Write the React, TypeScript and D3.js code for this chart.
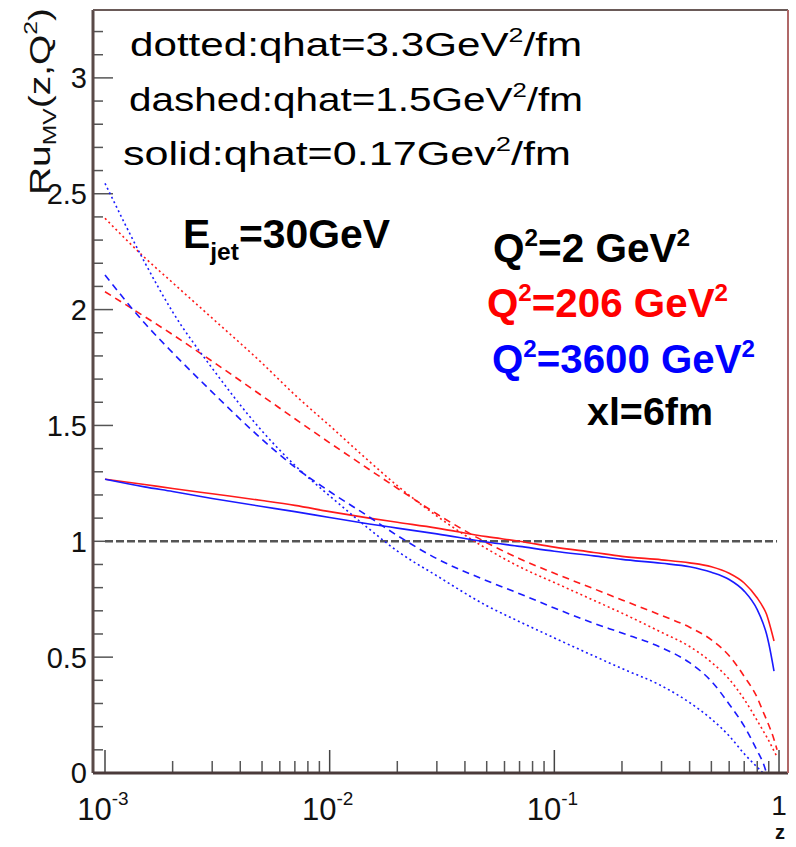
import React from 'react';
import * as d3 from 'd3';

// ---------- data ----------
const zGrid = [0.001, 0.0015, 0.002, 0.003, 0.005, 0.007, 0.01, 0.015, 0.02, 0.03, 0.05, 0.07, 0.1, 0.15, 0.2, 0.3, 0.4, 0.5, 0.6, 0.7, 0.8, 0.85, 0.88, 0.9, 0.95, 0.98];

// Q^2 = 206 GeV^2 (red)
const redSolid = [1.268, 1.245, 1.228, 1.205, 1.176, 1.155, 1.128, 1.1, 1.082, 1.057, 1.02, 1.0, 0.975, 0.952, 0.935, 0.92, 0.907, 0.89, 0.862, 0.82, 0.755, 0.715, 0.685, 0.655, 0.57, null];
const redDashed = [2.077, 1.97, 1.892, 1.777, 1.628, 1.529, 1.425, 1.31, 1.229, 1.118, 0.994, 0.925, 0.862, 0.795, 0.747, 0.68, 0.629, 0.575, 0.506, 0.417, 0.325, 0.264, 0.23, 0.207, 0.145, 0.1];
const redDotted = [2.394, 2.225, 2.116, 1.963, 1.769, 1.632, 1.499, 1.345, 1.24, 1.109, 0.968, 0.89, 0.822, 0.745, 0.69, 0.607, 0.546, 0.478, 0.405, 0.318, 0.226, 0.182, 0.157, 0.14, 0.095, 0.07];

// Q^2 = 3600 GeV^2 (blue)
const blueSolid = [1.268, 1.235, 1.215, 1.185, 1.15, 1.128, 1.103, 1.075, 1.057, 1.032, 0.997, 0.978, 0.957, 0.937, 0.922, 0.905, 0.89, 0.866, 0.835, 0.785, 0.705, 0.645, 0.6, 0.56, 0.44, null];
const blueDashed = [2.149, 1.942, 1.814, 1.644, 1.44, 1.32, 1.215, 1.105, 1.025, 0.925, 0.83, 0.774, 0.712, 0.646, 0.604, 0.541, 0.476, 0.396, 0.297, 0.202, 0.096, 0.043, 0.0, null, null, null];
const blueDotted = [2.545, 2.205, 1.99, 1.747, 1.476, 1.328, 1.196, 1.053, 0.958, 0.851, 0.722, 0.653, 0.583, 0.505, 0.451, 0.376, 0.304, 0.233, 0.16, 0.083, 0.025, 0.0, null, null, null, null];

// Q^2 = 2 GeV^2 (reference, ratio 1)
const refZ = [0.001, 0.98];
const refValues = [1, 1];

const yTickValues = [0, 0.5, 1, 1.5, 2, 2.5, 3];
const yTickLabels = ['0', '0.5', '1', '1.5', '2', '2.5', '3'];
const xTickExponents = [-3, -2, -1, 0];

const RED = '#ff1a1a';
const BLUE = '#1a1aff';

const series = [
  { values: redSolid, color: RED, dash: undefined },
  { values: redDashed, color: RED, dash: '7 5' },
  { values: redDotted, color: RED, dash: '2 3' },
  { values: blueSolid, color: BLUE, dash: undefined },
  { values: blueDashed, color: BLUE, dash: '7 5' },
  { values: blueDotted, color: BLUE, dash: '2 3' },
];

const W = 796;
const H = 847;
const FL = 93, FR = 788, FT = 10, FB = 773;
const FONT = '"Liberation Sans", Arial, Helvetica, sans-serif';

export default function App() {
  const x = d3.scaleLog().domain([Math.pow(10, -3.0534), Math.pow(10, 0.04)]).range([FL, FR]);
  const y = d3.scaleLinear().domain([0, 3.293]).range([FB, FT]);

  const line = d3
    .line<[number, number | null]>()
    .defined((d) => d[1] !== null)
    .x((d) => x(d[0]))
    .y((d) => y(d[1] as number))
    .curve(d3.curveMonotoneX);

  const refLine = d3
    .line<[number, number]>()
    .x((d) => x(d[0]))
    .y((d) => y(d[1]));

  const yMinor = d3.range(0, 33).map((i) => i / 10);
  const xMajor = xTickExponents.map((e) => Math.pow(10, e));
  const xMinor: number[] = [];
  [-3, -2, -1].forEach((e) => {
    for (let k = 2; k <= 9; k++) xMinor.push(k * Math.pow(10, e));
  });

  return (
    <svg width={W} height={H} style={{ display: 'block', position: 'absolute', left: 0, top: 0, background: '#fff' }} fontFamily={FONT}>
      <defs>
        <clipPath id="plotClip">
          <rect x={FL} y={FT} width={FR - FL} height={FB - FT} />
        </clipPath>
      </defs>
      <rect x={0} y={0} width={W} height={H} fill="#fff" />

      {/* y ticks */}
      {yMinor.map((v, i) => {
        const major = Math.abs(v * 2 - Math.round(v * 2)) < 1e-6;
        return (
          <line key={'ym' + i} x1={FL} x2={FL + (major ? 20 : 10)} y1={y(v)} y2={y(v)} stroke="#555" strokeWidth={1.5} />
        );
      })}
      {/* x ticks */}
      {xMinor.map((v, i) => (
        <line key={'xm' + i} x1={x(v)} x2={x(v)} y1={FB} y2={FB - 12} stroke="#555" strokeWidth={1.5} />
      ))}
      {xMajor.map((v, i) => (
        <line key={'xM' + i} x1={x(v)} x2={x(v)} y1={FB} y2={FB - 23} stroke="#444" strokeWidth={1.5} />
      ))}

      {/* reference line Q^2 = 2 */}
      <path
        d={refLine(refZ.map((z, i) => [z, refValues[i]] as [number, number])) || ''}
        fill="none"
        stroke="#555"
        strokeWidth={2.5}
        strokeDasharray="8 3"
        clipPath="url(#plotClip)"
      />

      {/* curves */}
      <g clipPath="url(#plotClip)">
        {series.map((s, i) => (
          <path
            key={'s' + i}
            d={line(zGrid.map((z, j) => [z, s.values[j]] as [number, number | null])) || ''}
            fill="none"
            stroke={s.color}
            strokeWidth={1.6}
            strokeDasharray={s.dash}
          />
        ))}
      </g>

      {/* frame */}
      <line x1={FL} x2={FL} y1={FT} y2={FB} stroke="#5a4a48" strokeWidth={3} />
      <line x1={FL} x2={FR} y1={FB} y2={FB} stroke="#4a3a3a" strokeWidth={3} />
      <line x1={FL} x2={FR} y1={FT} y2={FT} stroke="#6a5a58" strokeWidth={2} />
      <line x1={FR} x2={FR} y1={FT} y2={FB} stroke="#b06868" strokeWidth={2} />

      {/* y tick labels */}
      {yTickValues.map((v, i) => (
        <text key={'yl' + i} x={87} y={y(v)} dy="0.36em" textAnchor="end" fontSize={29} fill="#111">
          {yTickLabels[i]}
        </text>
      ))}

      {/* x tick labels */}
      {xTickExponents.map((e, i) =>
        e === 0 ? (
          <text key={'xl' + i} x={x(1)} y={815} textAnchor="middle" fontSize={28} fill="#111">
            1
          </text>
        ) : (
          <text key={'xl' + i} x={x(Math.pow(10, e)) - 2} y={820} textAnchor="middle" fontSize={31} fill="#111">
            10
            <tspan fontSize={19} dy={-15}>
              {String(e)}
            </tspan>
          </text>
        )
      )}

      {/* axis titles */}
      <text x={780} y={839} textAnchor="middle" fontSize={20} fontWeight="bold" fill="#111">
        z
      </text>
      <text
        transform="translate(50,195) rotate(-90)"
        fontSize={30}
        fill="#111"
        textLength={187}
        lengthAdjust="spacingAndGlyphs"
      >
        Ru
        <tspan fontSize={19} dy={6}>MV</tspan>
        <tspan dy={-6}>(z,Q</tspan>
        <tspan fontSize={19} dy={-13}>2</tspan>
        <tspan dy={13}>)</tspan>
      </text>

      {/* annotations */}
      <text x={130} y={56} fontSize={33} fill="#000" textLength={452} lengthAdjust="spacingAndGlyphs">
        dotted:qhat=3.3GeV<tspan fontSize={21} dy={-14}>2</tspan>
        <tspan dy={14}>/fm</tspan>
      </text>
      <text x={129} y={111} fontSize={33} fill="#000" textLength={454} lengthAdjust="spacingAndGlyphs">
        dashed:qhat=1.5GeV<tspan fontSize={21} dy={-14}>2</tspan>
        <tspan dy={14}>/fm</tspan>
      </text>
      <text x={123} y={165} fontSize={33} fill="#000" textLength={448} lengthAdjust="spacingAndGlyphs">
        solid:qhat=0.17Gev<tspan fontSize={21} dy={-14}>2</tspan>
        <tspan dy={14}>/fm</tspan>
      </text>

      <text x={183} y={248} fontSize={40} fontWeight="bold" fill="#000" textLength={207} lengthAdjust="spacingAndGlyphs">
        E<tspan fontSize={24} dy={12}>jet</tspan>
        <tspan dy={-12}>=30GeV</tspan>
      </text>

      <text x={493} y={262} fontSize={40} fontWeight="bold" fill="#000" textLength={197} lengthAdjust="spacingAndGlyphs">
        Q<tspan fontSize={24} dy={-16}>2</tspan>
        <tspan dy={16}>=2 GeV</tspan>
        <tspan fontSize={24} dy={-16}>2</tspan>
      </text>
      <text x={487} y={317} fontSize={40} fontWeight="bold" fill="#ff0000" textLength={241} lengthAdjust="spacingAndGlyphs">
        Q<tspan fontSize={24} dy={-16}>2</tspan>
        <tspan dy={16}>=206 GeV</tspan>
        <tspan fontSize={24} dy={-16}>2</tspan>
      </text>
      <text x={492} y={373} fontSize={40} fontWeight="bold" fill="#0000ff" textLength={263} lengthAdjust="spacingAndGlyphs">
        Q<tspan fontSize={24} dy={-16}>2</tspan>
        <tspan dy={16}>=3600 GeV</tspan>
        <tspan fontSize={24} dy={-16}>2</tspan>
      </text>
      <text x={587} y={425} fontSize={38} fontWeight="bold" fill="#000" textLength={126} lengthAdjust="spacingAndGlyphs">
        xl=6fm
      </text>
    </svg>
  );
}
